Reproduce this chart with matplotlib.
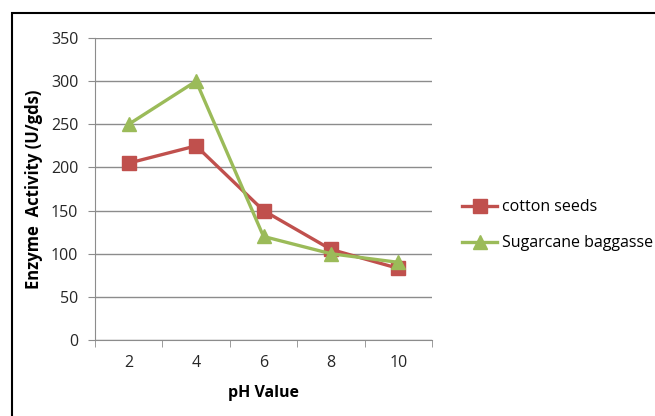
import matplotlib.pyplot as plt
from matplotlib.patches import Rectangle

ph = ["2", "4", "6", "8", "10"]
cotton = [205, 225, 150, 105, 83]
sugarcane = [250, 300, 120, 100, 90]

plt.rcParams['font.family'] = ['Open Sans', 'DejaVu Sans']

fig = plt.figure(figsize=(6.55, 4.16), dpi=100)
fig.patches.append(Rectangle((12 / 655, -0.1), 1.2, 1 - 13 / 416 + 0.1,
                             transform=fig.transFigure, fill=False,
                             edgecolor='black', linewidth=1.5))
ax = fig.add_axes([95 / 655, 1 - 340 / 416, 337 / 655, 302 / 416])

x = range(len(ph))
ax.plot(x, cotton, color='#C0504D', linewidth=2.4, marker='s', markersize=9.5,
        label='cotton seeds')
ax.plot(x, sugarcane, color='#9BBB59', linewidth=2.4, marker='^', markersize=10.5,
        label='Sugarcane baggasse')

ax.set_xlim(-0.5, 4.5)
ax.set_ylim(0, 350)
ax.set_yticks(range(0, 351, 50))
ax.set_xticks(list(x))
ax.set_xticklabels(ph)
ax.set_xticks([i - 0.5 for i in range(6)], minor=True)
ax.grid(axis='y', color='#8c8c8c', linewidth=1)
ax.set_axisbelow(True)
for s in ['top', 'right']:
    ax.spines[s].set_visible(False)
for s in ['left', 'bottom']:
    ax.spines[s].set_color('#8c8c8c')
ax.tick_params(axis='x', which='major', length=0, pad=11, labelsize=11.5, colors='#262626')
ax.tick_params(axis='x', which='minor', length=5, color='#8c8c8c')
ax.tick_params(axis='y', length=5, color='#8c8c8c', labelsize=11.5, pad=7, labelcolor='#262626')

ax.set_xlabel('pH Value', fontweight='bold', fontsize=11.5, labelpad=10)
ax.set_ylabel('Enzyme  Activity (U/gds)', fontweight='bold', fontsize=12, labelpad=6)

ax.legend(loc='center left', bbox_to_anchor=(1.07, 0.38), borderaxespad=0,
          frameon=False, fontsize=11.5, handlelength=2.2, handletextpad=0.3,
          labelspacing=1.25)

fig.savefig('out.png', dpi=100)
